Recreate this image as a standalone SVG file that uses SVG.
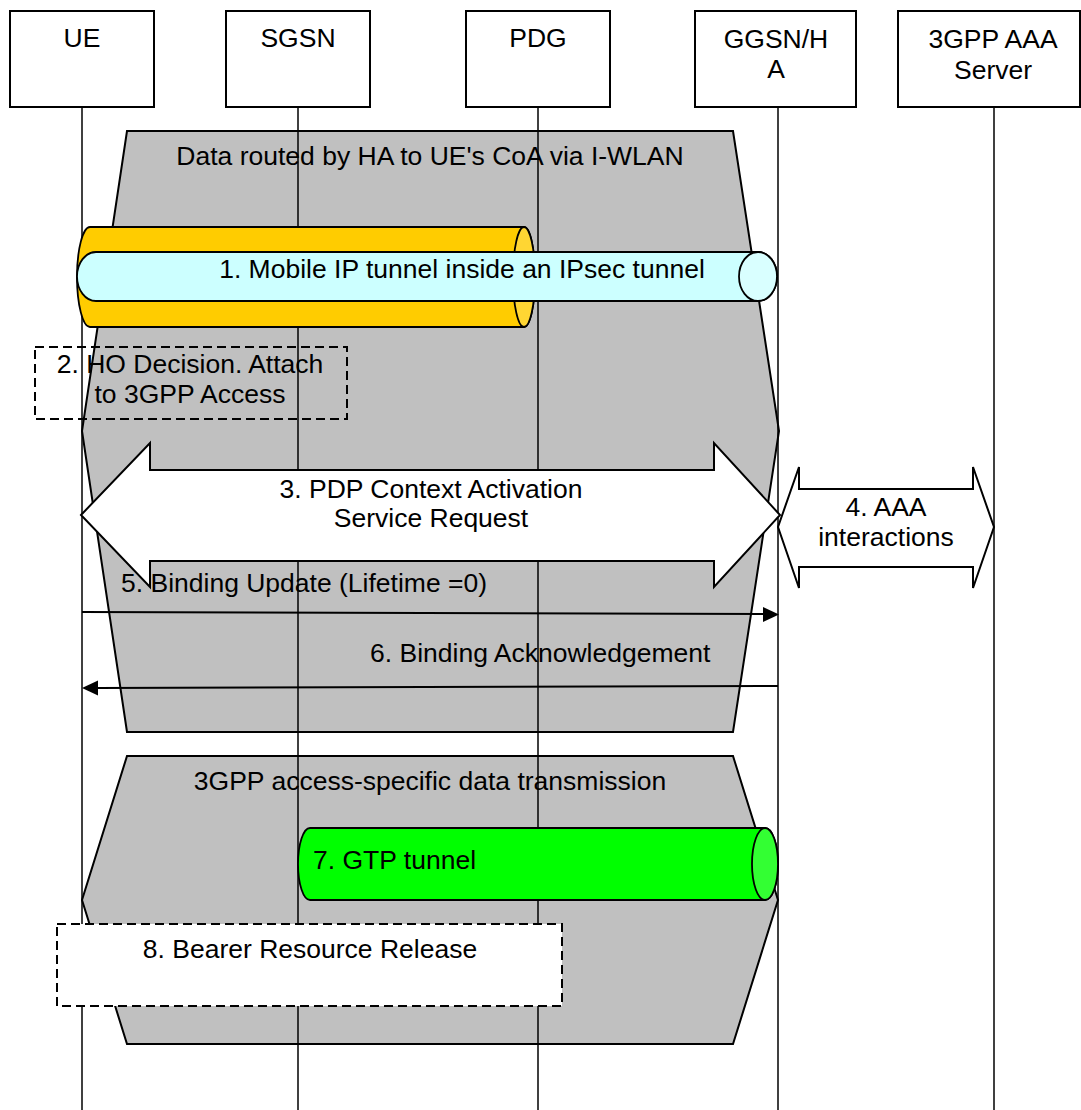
<svg xmlns="http://www.w3.org/2000/svg" width="1081" height="1110" viewBox="0 0 1081 1110">
<style>
  text { font-family: "Liberation Sans", Arial, sans-serif; font-size: 26.5px; fill: #000; }
  .mid { text-anchor: middle; }
  .hdr { fill: #fff; stroke: #000; stroke-width: 2; }
  .life { stroke: #000; stroke-width: 1.5; fill: none; }
  .hex { fill: #c0c0c0; stroke: #000; stroke-width: 2; }
  .dash { stroke: #000; stroke-width: 2; stroke-dasharray: 9 5; }
  .tube { stroke: #000; stroke-width: 1.8; }
  .big { fill: #fff; stroke: #000; stroke-width: 2; }
  .msg { stroke: #000; stroke-width: 2; fill: none; }
</style>

<g id="phase-iwlan">
  <polygon class="hex" points="127,131 733,131 779,431 733,732 127,732 82,431"/>
  <text class="mid" x="430" y="165">Data routed by HA to UE's CoA via I-WLAN</text>
</g>
<g id="phase-3gpp">
  <polygon class="hex" points="127,756 733,756 778,900 733,1044 127,1044 82,900"/>
  <text class="mid" x="430" y="790">3GPP access-specific data transmission</text>
</g>

<g id="UE">
  <rect class="hdr" x="10" y="11" width="144" height="96"/>
  <text class="mid" x="82" y="47">UE</text>
  <line class="life" x1="82" y1="107" x2="82" y2="1110"/>
</g>
<g id="SGSN">
  <rect class="hdr" x="226" y="11" width="144" height="96"/>
  <text class="mid" x="298" y="47">SGSN</text>
  <line class="life" x1="298" y1="107" x2="298" y2="1110"/>
</g>
<g id="PDG">
  <rect class="hdr" x="466" y="11" width="144" height="96"/>
  <text class="mid" x="538" y="47">PDG</text>
  <line class="life" x1="538" y1="107" x2="538" y2="1110"/>
</g>
<g id="GGSN-HA">
  <rect class="hdr" x="695" y="11" width="161" height="96"/>
  <text class="mid" x="776" y="48">GGSN/H</text>
  <text class="mid" x="776" y="78">A</text>
  <line class="life" x1="778" y1="107" x2="778" y2="1110"/>
</g>
<g id="AAA">
  <rect class="hdr" x="898" y="11" width="182" height="96"/>
  <text class="mid" x="993" y="48">3GPP AAA</text>
  <text class="mid" x="993" y="79">Server</text>
  <line class="life" x1="994" y1="107" x2="994" y2="1110"/>
</g>

<g id="tunnel-ipsec">
  <path class="tube" fill="#ffcc00" d="M524 227 L90 227 A13 50 0 0 0 90 327 L524 327 A11 50 0 0 0 524 227 Z"/>
  <ellipse class="tube" fill="#ffd633" cx="524" cy="277" rx="11" ry="50"/>
</g>
<g id="tunnel-mip">
  <path class="tube" fill="#ccffff" d="M758 252 L96 252 A19 24.5 0 0 0 96 301 L758 301 A19 24.5 0 0 0 758 252 Z"/>
  <ellipse class="tube" fill="#d9ffff" cx="758" cy="276.5" rx="19" ry="24.5"/>
  <text class="mid" x="462" y="278">1. Mobile IP tunnel inside an IPsec tunnel</text>
</g>

<g id="step2">
  <rect class="dash" fill="none" x="35" y="347" width="312" height="72"/>
  <text class="mid" x="190" y="373">2. HO Decision. Attach</text>
  <text class="mid" x="190" y="403">to 3GPP Access</text>
</g>

<g id="connectors">
  <g id="step3">
    <polygon class="big" points="81,515 150,443 150,470 714,470 714,443 780,515 714,587 714,561 150,561 150,587"/>
    <text class="mid" x="431" y="498">3. PDP Context Activation</text>
    <text class="mid" x="431" y="527">Service Request</text>
  </g>
  <g id="step4">
    <polygon class="big" points="778,527 799,467 799,489 973,489 973,467 994,527 973,588 973,567 799,567 799,588"/>
    <text class="mid" x="886" y="516">4. AAA</text>
    <text class="mid" x="886" y="546">interactions</text>
  </g>
  <g id="step5">
    <line class="msg" x1="82" y1="612" x2="764" y2="614"/>
    <polygon points="779,614.5 763,607 763,622" fill="#000"/>
    <text x="121" y="592">5. Binding Update (Lifetime =0)</text>
  </g>
  <g id="step6">
    <line class="msg" x1="778" y1="686" x2="97" y2="688"/>
    <polygon points="82,688 98,680.5 98,695.5" fill="#000"/>
    <text x="370" y="662">6. Binding Acknowledgement</text>
  </g>
</g>

<g id="tunnel-gtp">
  <path class="tube" fill="#00ff00" d="M765 828 L310 828 A12 36 0 0 0 310 900 L765 900 A13 36 0 0 0 765 828 Z"/>
  <ellipse class="tube" fill="#33ff33" cx="765" cy="864" rx="13" ry="36"/>
  <text x="313" y="869">7. GTP tunnel</text>
</g>

<g id="step8">
  <rect class="dash" fill="#fff" x="57" y="924" width="505" height="82"/>
  <text class="mid" x="310" y="958">8. Bearer Resource Release</text>
</g>
</svg>
